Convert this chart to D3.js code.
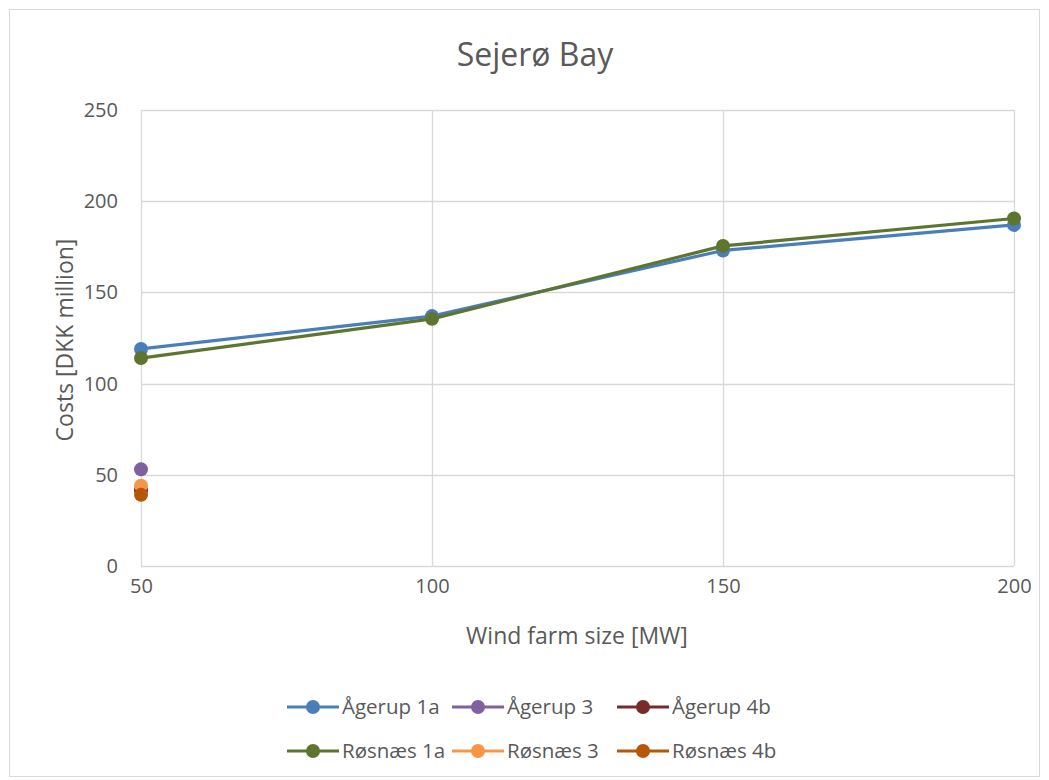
<!DOCTYPE html>
<html>
<head>
<meta charset="utf-8">
<script src="https://cdn.jsdelivr.net/npm/d3@7"></script>
<style>
  html, body { margin: 0; padding: 0; background: #fff; }
  svg { display: block; font-family: "Open Sans", Lato, sans-serif; }
</style>
</head>
<body>
<svg id="chart" width="1049" height="780"></svg>
<script>
// Wind farm sizes on the x axis (MW)
const sizes = [50, 100, 150, 200];
const xTicks = [50, 100, 150, 200];
const yTicks = [0, 50, 100, 150, 200, 250];

// Costs per route (DKK million); routes 3 and 4b only have a 50 MW value
const seriesNames = ["Ågerup 1a", "Ågerup 3", "Ågerup 4b", "Røsnæs 1a", "Røsnæs 3", "Røsnæs 4b"];
const agerup1a = [119, 137, 173, 187];
const agerup3 = [53];
const agerup4b = [41.5];
const rosnaes1a = [114, 135.5, 175.5, 190.5];
const rosnaes3 = [44];
const rosnaes4b = [39];
const seriesColors = ["#4a7ebb", "#7f60a0", "#772c2a", "#5e7530", "#f79646", "#b65708"];

const seriesValues = [agerup1a, agerup3, agerup4b, rosnaes1a, rosnaes3, rosnaes4b];
const series = seriesNames.map((name, i) => ({
  name,
  color: seriesColors[i],
  points: seriesValues[i].map((v, j) => ({ x: sizes[j], y: v }))
}));

const svg = d3.select("#chart");
const W = 1049, H = 780;
const margin = { left: 141, right: 1049 - 1014, top: 110, bottom: 780 - 566 };
const font = "'Open Sans', Lato, sans-serif";
const textColor = "#595959";

// Chart frame
svg.append("rect")
  .attr("x", 9.5).attr("y", 9.5)
  .attr("width", W - 19).attr("height", H - 13)
  .attr("fill", "#fff").attr("stroke", "#d9d9d9").attr("stroke-width", 1);

const x = d3.scaleLinear().domain([50, 200]).range([margin.left, W - margin.right]);
const y = d3.scaleLinear().domain([0, 250]).range([H - margin.bottom, margin.top]);

// Gridlines
const grid = svg.append("g");
grid.selectAll("line.h").data(yTicks).join("line")
  .attr("x1", x(50)).attr("x2", x(200))
  .attr("y1", d => Math.round(y(d)) + 0.5).attr("y2", d => Math.round(y(d)) + 0.5)
  .attr("stroke", "#d9d9d9").attr("stroke-width", 1.3);
grid.selectAll("line.v").data(xTicks).join("line")
  .attr("y1", y(0)).attr("y2", y(250))
  .attr("x1", d => Math.round(x(d)) + 0.5).attr("x2", d => Math.round(x(d)) + 0.5)
  .attr("stroke", "#d9d9d9").attr("stroke-width", 1.3);

// Axes (labels only, lines come from the grid)
const yAxis = svg.append("g")
  .attr("transform", `translate(${x(50)},0)`)
  .call(d3.axisLeft(y).tickValues(yTicks).tickSize(0).tickPadding(23));
const xAxis = svg.append("g")
  .attr("transform", `translate(0,${y(0)})`)
  .call(d3.axisBottom(x).tickValues(xTicks).tickSize(0).tickPadding(20));
[xAxis, yAxis].forEach(a => {
  a.select(".domain").remove();
  a.selectAll("text").attr("fill", textColor).style("font-size", "20px")
    .style("font-family", font);
});
xAxis.selectAll("text").attr("dy", "0.36em");

// Title and axis titles
svg.append("text").attr("x", 535).attr("y", 66).attr("text-anchor", "middle")
  .attr("fill", textColor).style("font-size", "32px").text("Sejerø Bay");
svg.append("text").attr("x", 577).attr("y", 644).attr("text-anchor", "middle")
  .attr("fill", textColor).style("font-size", "23px").text("Wind farm size [MW]");
svg.append("text").attr("transform", "translate(73,340) rotate(-90)")
  .attr("text-anchor", "middle").attr("fill", textColor).style("font-size", "23px")
  .text("Costs [DKK million]");

// Series lines and markers
const line = d3.line().x(d => x(d.x)).y(d => y(d.y));
const plot = svg.append("g");
series.forEach(s => {
  if (s.points.length > 1) {
    plot.append("path").datum(s.points)
      .attr("d", line).attr("fill", "none")
      .attr("stroke", s.color).attr("stroke-width", 3.2)
      .attr("stroke-linejoin", "round").attr("stroke-linecap", "round");
  }
  plot.selectAll(null).data(s.points).join("circle")
    .attr("cx", d => x(d.x)).attr("cy", d => y(d.y)).attr("r", 7)
    .attr("fill", s.color);
});

// Legend: two rows of three entries
const legendX = [287, 452, 617];
const legendY = [707, 751];
const legend = svg.append("g");
series.forEach((s, i) => {
  const lx = legendX[i % 3];
  const ly = legendY[Math.floor(i / 3)];
  const lw = 52;
  const g = legend.append("g");
  g.append("line").attr("x1", lx).attr("x2", lx + lw).attr("y1", ly).attr("y2", ly)
    .attr("stroke", s.color).attr("stroke-width", 3.2);
  g.append("circle").attr("cx", lx + lw / 2).attr("cy", ly).attr("r", 7).attr("fill", s.color);
  g.append("text").attr("x", lx + lw + 3).attr("y", ly).attr("dy", "0.36em")
    .attr("fill", textColor).style("font-size", "20.5px").text(s.name);
});
</script>
</body>
</html>
